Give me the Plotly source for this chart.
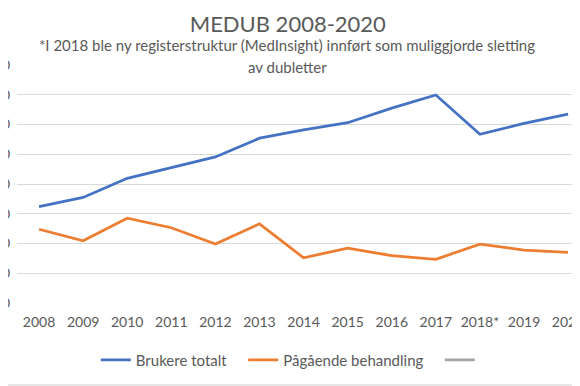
import plotly.graph_objects as go

years = ["2008", "2009", "2010", "2011", "2012", "2013", "2014",
         "2015", "2016", "2017", "2018*", "2019", "2020"]
brukere_totalt = [3240, 3550, 4190, 4550, 4910, 5540, 5820,
                  6060, 6550, 6990, 5670, 6040, 6350]
pagaende_behandling = [2480, 2090, 2850, 2530, 1980, 2660, 1520,
                       1840, 1590, 1470, 1980, 1780, 1700]
y_ticks = [0, 1000, 2000, 3000, 4000, 5000, 6000, 7000, 8000]

FONT = "Lato"
TXT = "#595959"
NB = "\u00a0"

fig = go.Figure()
fig.add_trace(go.Scatter(x=years, y=brukere_totalt, mode="lines",
                         name="Brukere totalt" + NB * 3,
                         line=dict(color="#4472C4", width=2.75)))
fig.add_trace(go.Scatter(x=years, y=pagaende_behandling, mode="lines",
                         name="Pågående behandling" + NB * 3,
                         line=dict(color="#ED7D31", width=2.75)))
fig.add_trace(go.Scatter(x=years, y=[None] * len(years), mode="lines",
                         name=" ",
                         line=dict(color="#A5A5A5", width=2.75)))

fig.update_layout(
    width=580, height=386,
    margin=dict(l=9, r=8, t=57, b=91, autoexpand=False),
    paper_bgcolor="white", plot_bgcolor="white",
    font=dict(family=FONT, color=TXT, size=12),
    title=dict(text="MEDUB 2008-2020", x=0.481, xref="paper", xanchor="center",
               y=1 - 16 / 386, yanchor="middle", yref="container",
               font=dict(size=22, color=TXT, family=FONT)),
    showlegend=True,
    legend=dict(orientation="h", x=0.489, xanchor="center", xref="paper",
                y=(303 - 360) / 238, yanchor="middle",
                font=dict(size=15, color=TXT, family=FONT),
                itemwidth=30, tracegroupgap=0),
    xaxis=dict(type="category", range=[-0.5, 12.27], showgrid=False,
               showline=False, zeroline=False, ticks="",
               ticklabelstandoff=9, automargin=False,
               tickfont=dict(size=14, color=TXT, family=FONT),
               fixedrange=True),
    yaxis=dict(range=[0, 8000], tickvals=y_ticks, showgrid=True,
               gridcolor="#D9D9D9", gridwidth=1, zeroline=False,
               showline=False, ticks="", ticklabelstandoff=6,
               automargin=False,
               tickfont=dict(size=14, color=TXT, family=FONT),
               fixedrange=True),
)

fig.add_annotation(text="*I 2018 ble ny registerstruktur (MedInsight) innført som muliggjorde sletting",
                   xref="paper", yref="paper", x=0.48, y=(303 - 45) / 238,
                   xanchor="center", yanchor="middle", showarrow=False,
                   font=dict(size=15, color=TXT, family=FONT))
fig.add_annotation(text="av dubletter",
                   xref="paper", yref="paper", x=0.48, y=(303 - 67) / 238,
                   xanchor="center", yanchor="middle", showarrow=False,
                   bgcolor="white", borderpad=1,
                   font=dict(size=15, color=TXT, family=FONT))

# thin border line of the chart frame (bottom)
fig.add_shape(type="line", xref="paper", yref="paper",
              x0=-0.04, x1=1.02, y0=(303 - 385) / 238, y1=(303 - 385) / 238,
              line=dict(color="#D0D0D0", width=1))

fig.write_html("out.html")
